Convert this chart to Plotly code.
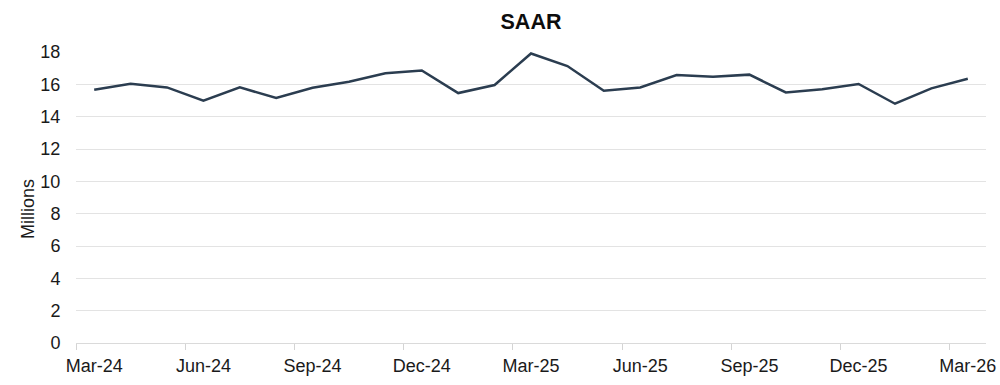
import plotly.graph_objects as go

months = ["Mar-24", "Apr-24", "May-24", "Jun-24", "Jul-24", "Aug-24", "Sep-24", "Oct-24",
          "Nov-24", "Dec-24", "Jan-25", "Feb-25", "Mar-25", "Apr-25", "May-25", "Jun-25",
          "Jul-25", "Aug-25", "Sep-25", "Oct-25", "Nov-25", "Dec-25", "Jan-26", "Feb-26", "Mar-26"]
saar = [15.67, 16.04, 15.81, 14.99, 15.81, 15.15, 15.79, 16.16, 16.68, 16.86, 15.46, 15.96,
        17.91, 17.13, 15.60, 15.81, 16.57, 16.47, 16.60, 15.50, 15.69, 16.02, 14.80, 15.75, 16.35]
tick_labels = ["Mar-24", "Jun-24", "Sep-24", "Dec-24", "Mar-25", "Jun-25", "Sep-25", "Dec-25", "Mar-26"]
y_ticks = [0, 2, 4, 6, 8, 10, 12, 14, 16, 18]

idx = list(range(len(months)))
label_pos = [months.index(m) for m in tick_labels]
boundary_pos = [p - 0.5 for p in label_pos]

FONT = "Liberation Sans, Arial, sans-serif"
GRID = "#e3e3e3"
TXT = "#1a1a1a"
FS = 18

L, R, T, B = 76, 14, 52, 42
W, H = 1000, 385
pw = W - L - R

fig = go.Figure()
fig.add_trace(go.Scatter(
    x=idx, y=saar, mode="lines",
    line=dict(color="#2b3d50", width=2.5),
    customdata=months, hovertemplate="%{customdata}: %{y}<extra></extra>",
    showlegend=False, cliponaxis=False,
))
fig.add_trace(go.Scatter(x=[idx[0]], y=[saar[0]], xaxis="x2", mode="markers",
                         marker=dict(opacity=0), showlegend=False, hoverinfo="skip"))

fig.update_layout(
    width=W, height=H,
    margin=dict(l=L, r=R, t=T, b=B, autoexpand=False),
    paper_bgcolor="white", plot_bgcolor="white",
    font=dict(family=FONT, size=FS, color=TXT),
    title=dict(text="<b>SAAR</b>", x=0.5, xanchor="center", xref="paper",
               y=1 - 21 / H, yanchor="middle",
               font=dict(family=FONT, size=21.5, color="#0d0d0d")),
    xaxis=dict(
        range=[-0.5, len(months) - 0.5], tickmode="array",
        tickvals=label_pos, ticktext=tick_labels, automargin=False,
        showgrid=False, zeroline=False, ticks="outside", ticklen=6, tickcolor="rgba(0,0,0,0)",
        showline=True, linecolor="#dadada", linewidth=1,
        tickfont=dict(size=FS, color=TXT),
    ),
    xaxis2=dict(
        overlaying="x", anchor="y", side="bottom", automargin=False,
        range=[-0.5, len(months) - 0.5], tickmode="array", tickvals=boundary_pos,
        showticklabels=False, showgrid=False, zeroline=False,
        ticks="outside", ticklen=6, tickcolor="#d4d4d4", tickwidth=1,
    ),
    yaxis=dict(
        range=[0, 18], tickmode="array", tickvals=y_ticks, automargin=False,
        showgrid=True, gridcolor=GRID, gridwidth=1, zeroline=False,
        ticks="outside", ticklen=11, tickcolor="rgba(0,0,0,0)",
        tickfont=dict(size=FS, color=TXT),
    ),
    annotations=[dict(
        text="Millions", textangle=-90, showarrow=False,
        xref="paper", yref="paper", x=(28 - L) / pw, y=(H - B - 209) / (H - T - B),
        xanchor="center", yanchor="middle", font=dict(size=FS, color=TXT),
    )],
)

fig.write_html("out.html", config={"displayModeBar": False},
               post_script="document.body.style.margin='0';")
